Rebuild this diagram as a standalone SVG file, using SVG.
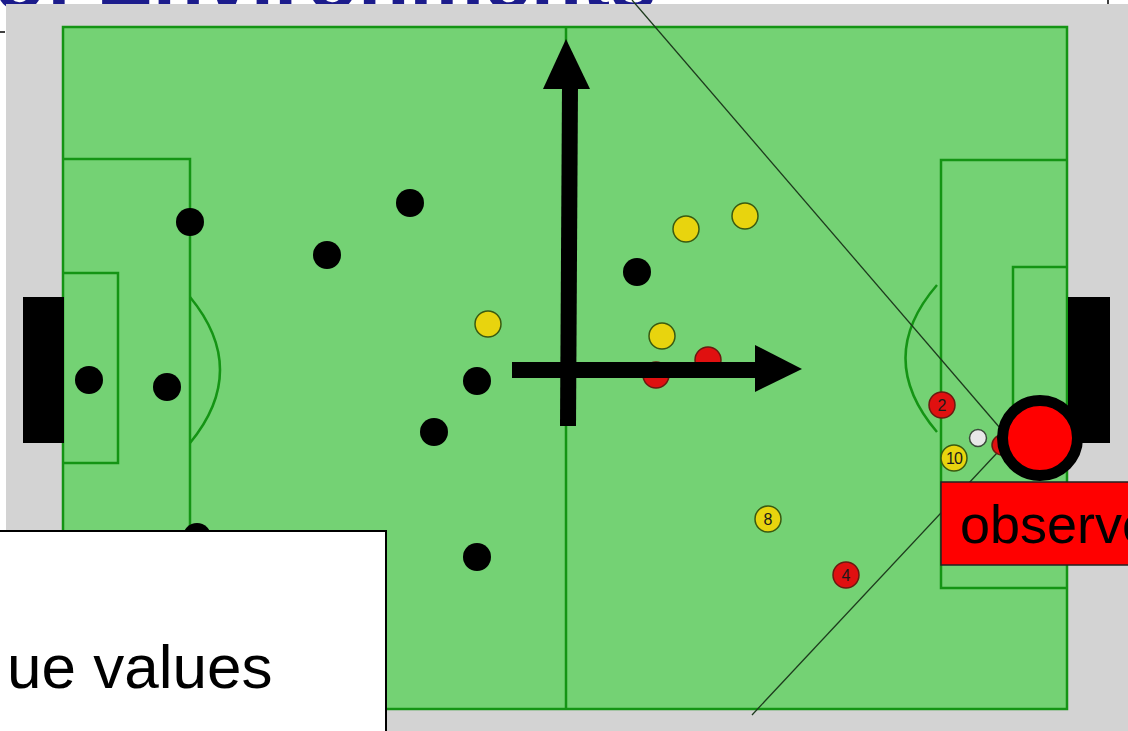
<svg xmlns="http://www.w3.org/2000/svg" width="1128" height="731" viewBox="0 0 1128 731">
<style>
.line{fill:none;stroke:#149414;stroke-width:2.5}
.blk{fill:#000}
.yel{fill:#e8d40e;stroke:#3a5a10;stroke-width:1.5}
.red{fill:#e01010;stroke:#6a1a10;stroke-width:1.5}
.num{font-family:"Liberation Sans",Arial,sans-serif;font-size:16px;fill:#1a1a1a;text-anchor:middle}
.diag{stroke:#1d3a1d;stroke-width:1.3;fill:none}
</style>
<rect x="0" y="0" width="1128" height="731" fill="#ffffff"/>
<text x="-6" y="9" font-family="Liberation Sans,Arial,sans-serif" font-weight="bold" font-size="84" fill="#1c1c8c">of Environments</text>
<rect x="6" y="4" width="1122" height="727" fill="#d3d3d3"/>
<line x1="0" y1="32" x2="5" y2="32" stroke="#000" stroke-width="1.5"/>
<line x1="1108" y1="0" x2="1108" y2="4" stroke="#000" stroke-width="1.5"/>

<g id="field">
<rect x="63" y="27" width="1004" height="682" fill="#74d274" stroke="#149414" stroke-width="2.5"/>
<line class="line" x1="566" y1="27" x2="566" y2="709"/>
<path class="line" d="M63 159 H190 V576 H63"/>
<path class="line" d="M63 273 H118 V463 H63"/>
<path class="line" d="M190 297 Q250 370 190 443"/>
<path class="line" d="M1067 160 H941 V588 H1067"/>
<path class="line" d="M1067 267 H1013 V470"/>
<path class="line" d="M937 285 Q874 358 937 432"/>
</g>
<rect id="goal-left" x="23" y="297" width="41" height="146" fill="#000"/>
<rect id="goal-right" x="1068" y="297" width="42" height="146" fill="#000"/>

<g id="sightlines">
<line class="diag" x1="632" y1="0" x2="1000" y2="428"/>
<line class="diag" x1="997" y1="453" x2="752" y2="715"/>
</g>

<g id="players">
<circle class="blk" cx="190" cy="222" r="14"/>
<circle class="blk" cx="327" cy="255" r="14"/>
<circle class="blk" cx="410" cy="203" r="14"/>
<circle class="blk" cx="89" cy="380" r="14"/>
<circle class="blk" cx="167" cy="387" r="14"/>
<circle class="blk" cx="477" cy="381" r="14"/>
<circle class="blk" cx="434" cy="432" r="14"/>
<circle class="blk" cx="477" cy="557" r="14"/>
<circle class="blk" cx="637" cy="272" r="14"/>
<circle class="blk" cx="197" cy="537" r="14"/>
<circle class="yel" cx="488" cy="324" r="13"/>
<circle class="yel" cx="686" cy="229" r="13"/>
<circle class="yel" cx="745" cy="216" r="13"/>
<circle class="yel" cx="662" cy="336" r="13"/>
<circle class="yel" cx="768" cy="519" r="13"/>
<text class="num" x="768" y="525">8</text>
<circle class="yel" cx="954" cy="458" r="13"/>
<text class="num" x="954" y="464" style="letter-spacing:-1px">10</text>
<circle class="red" cx="656" cy="375" r="13"/>
<circle class="red" cx="708" cy="360" r="13"/>
<circle class="red" cx="942" cy="405" r="13"/>
<text class="num" x="942" y="411">2</text>
<circle class="red" cx="846" cy="575" r="13"/>
<text class="num" x="846" y="581">4</text>
<circle class="red" cx="1002" cy="445" r="10"/>
<circle cx="978" cy="438" r="8.5" fill="#e8e8e8" stroke="#3a4a3a" stroke-width="1.5"/>
</g>

<g id="connectors">
<line x1="568" y1="426" x2="570" y2="86" stroke="#000" stroke-width="16"/>
<polygon points="543,89 590,89 566,39" fill="#000"/>
<line x1="512" y1="370" x2="757" y2="370" stroke="#000" stroke-width="16"/>
<polygon points="755,345 802,369 755,392" fill="#000"/>
</g>

<g id="observer">
<circle cx="1040" cy="438" r="37.5" fill="#ff0000" stroke="#000" stroke-width="11"/>
<rect x="941" y="482" width="200" height="83" fill="#ff0000" stroke="#222" stroke-width="1.5"/>
<text x="960" y="543" font-family="Liberation Sans,Arial,sans-serif" font-size="54" fill="#000">observer</text>
</g>

<g id="note">
<rect x="-5" y="531" width="391" height="210" fill="#ffffff" stroke="#000" stroke-width="2"/>
<text x="7" y="688" font-family="Liberation Sans,Arial,sans-serif" font-size="62" fill="#000">ue values</text>
</g>
</svg>
